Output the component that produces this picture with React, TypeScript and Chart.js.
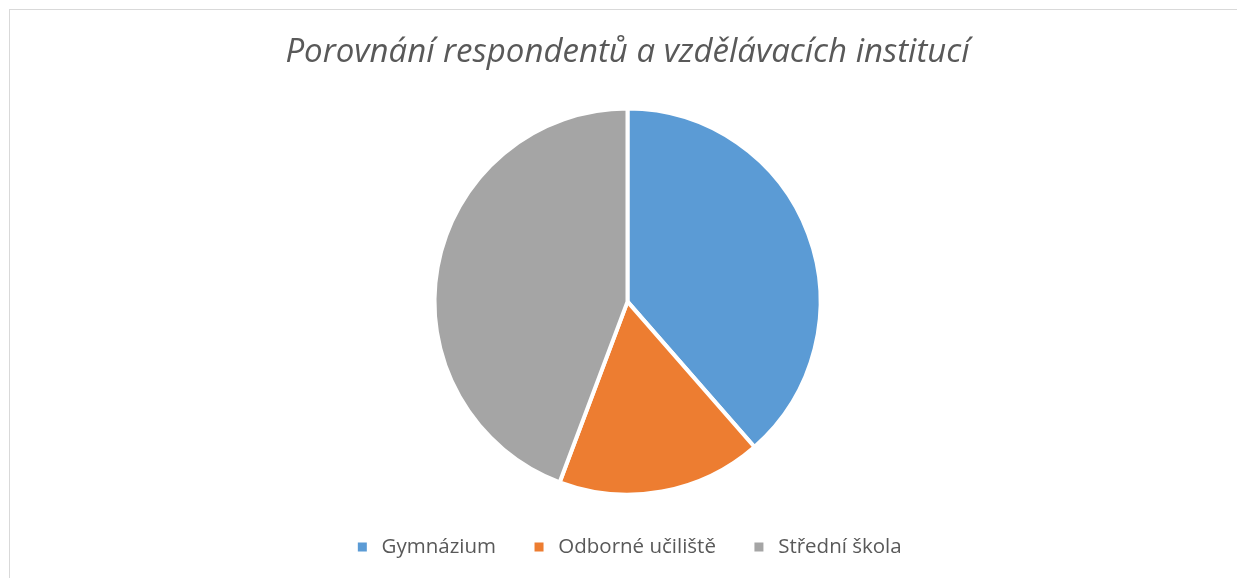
import React, { useEffect, useRef } from "react";
import { Chart, registerables } from "chart.js";

Chart.register(...registerables);

const categories = ["Gymnázium", "Odborné učiliště", "Střední škola"];
const counts = [27, 12, 31];
const colors = ["#5B9BD5", "#ED7D31", "#A5A5A5"];
const titleText = "Porovnání respondentů a vzdělávacích institucí";

export default function App() {
  const ref = useRef<HTMLCanvasElement | null>(null);

  useEffect(() => {
    if (!ref.current) return;
    const baseGen = (Chart as any).overrides.pie.plugins.legend.labels.generateLabels;
    const chart = new Chart(ref.current, {
      type: "pie",
      data: {
        labels: categories,
        datasets: [
          {
            data: counts,
            backgroundColor: colors,
            borderColor: "#FFFFFF",
            borderWidth: 4,
          },
        ],
      },
      options: {
        animation: false,
        responsive: false,
        devicePixelRatio: 1,
        radius: 193,
        layout: { padding: { left: 18, right: 0, top: 0, bottom: 10.75 } },
        plugins: {
          title: {
            display: true,
            text: titleText,
            color: "#595959",
            font: { family: "'Open Sans'", size: 33, style: "italic", weight: "normal", lineHeight: 1.2 },
            padding: { top: 33.2, bottom: 27.65 },
          },
          legend: {
            display: true,
            position: "bottom",
            labels: {
              color: "#595959",
              font: { family: "'Open Sans'", size: 20.5 },
              usePointStyle: true,
              pointStyle: "rect",
              boxWidth: 18,
              boxHeight: 9,
              padding: 34,
              generateLabels: (c: any) =>
                baseGen(c).map((it: any) => ({ ...it, lineWidth: 0, strokeStyle: it.fillStyle })),
            },
          },
          tooltip: { enabled: false },
        },
      } as any,
    });
    return () => chart.destroy();
  }, []);

  return (
    <>
      <div
        style={{
          position: "fixed",
          left: 9,
          top: 9,
          width: 1400,
          height: 800,
          borderTop: "1px solid #D9D9D9",
          borderLeft: "1px solid #D9D9D9",
          background: "#FFFFFF",
        }}
      />
      <canvas
        ref={ref}
        width={1237}
        height={578}
        style={{ position: "fixed", left: 0, top: 0, width: 1237, height: 578 }}
      />
    </>
  );
}
